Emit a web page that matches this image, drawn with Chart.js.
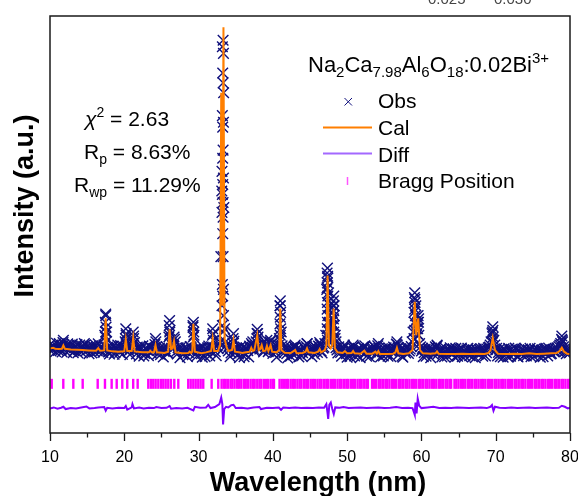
<!DOCTYPE html>
<html>
<head>
<meta charset="utf-8">
<script src="https://cdn.jsdelivr.net/npm/chart.js@4.4.0/dist/chart.umd.min.js"></script>
<style>
  html, body { margin: 0; padding: 0; background: #fff; overflow: hidden; }
  #wrap { position: relative; width: 600px; height: 496px; }
</style>
</head>
<body>
<div id="wrap"><canvas id="xrdChart"></canvas></div>
<script>
// x axis ticks
const majorTicks = [10, 20, 30, 40, 50, 60, 70, 80];
const minorTicks = [15, 25, 35, 45, 55, 65, 75];

// observed points, grid A: 10, 10.25, ... 80
const obsStart = 10;
const obsStep = 0.25;
const obsY = [
    0.032, 0.018, 0.027, 0.010, 0.024, 0.035, 0.016, 0.038, 0.022, 0.008, 0.029, 0.019, 0.033, 0.012, 0.025, 0.006, 0.030, 0.021, 0.014, 0.031,
    0.025, 0.004, 0.019, 0.028, 0.009, 0.022, 0.034, 0.011, 0.020, 0.030, 0.125, 0.024, 0.003, 0.018, 0.027, 0.007, 0.021, 0.015, 0.029, 0.002,
    0.018, 0.060, 0.022, 0.001, 0.026, 0.058, 0.015, 0.024, -0.004, 0.017, 0.028, 0.005, 0.019, -0.002, 0.025, 0.012, 0.020, 0.040, 0.003, 0.021,
    0.014, -0.006, 0.019, 0.008, 0.055, 0.035, 0.028, 0.048, 0.010, 0.022, -0.008, 0.016, 0.004, 0.020, -0.005, 0.013, 0.024, 0.090, 0.018, -0.004,
    0.012, 0.021, -0.007, 0.016, 0.006, 0.023, -0.003, 0.025, 0.045, 0.010, 0.028, 0.035, 0.300, 0.600, 0.080, 0.030, 0.012, -0.005, 0.026, 0.042,
    0.008, 0.019, -0.008, 0.015, 0.024, 0.002, 0.017, -0.006, 0.020, 0.030, 0.012, 0.040, 0.055, 0.018, 0.032, 0.009, 0.027, 0.030, 0.014, 0.033,
    0.005, 0.021, -0.007, 0.030, 0.150, 0.028, 0.006, 0.018, -0.009, 0.014, 0.022, 0.001, 0.024, 0.010, -0.006, 0.017, 0.007, 0.023, 0.026, 0.004,
    0.019, -0.005, 0.015, 0.024, 0.008, 0.026, 0.012, 0.021, 0.035, 0.200, 0.190, 0.045, 0.090, 0.120, 0.022, 0.006, 0.018, -0.004, 0.020, 0.013,
    -0.007, 0.016, 0.004, 0.022, -0.003, 0.012, 0.020, -0.008, 0.014, 0.023, 0.006, 0.017, -0.005, 0.019, 0.010, 0.024, 0.002, 0.021, -0.006, 0.015,
    0.008, 0.022, -0.004, 0.016, 0.011, 0.024, 0.018, 0.030, 0.003, 0.019, -0.007, 0.013, 0.021, 0.005, 0.018, 0.040, 0.130, 0.150, 0.100, 0.035,
    0.012, -0.005, 0.017, 0.006, 0.020, -0.008, 0.014, 0.009, 0.022, 0.004, 0.015, -0.006, 0.018, 0.010, -0.003, 0.016, 0.007, 0.019, -0.007, 0.012,
    0.003, 0.017, -0.005, 0.014, 0.008, 0.020, -0.002, 0.011, 0.016, -0.008, 0.013, 0.005, 0.019, -0.004, 0.012, 0.007, 0.022, 0.030, 0.065, 0.045,
    0.015, -0.003, 0.018, 0.006, -0.007, 0.014, 0.009, 0.020, -0.004, 0.012, 0.003, 0.017, -0.006, 0.010, 0.015, -0.002, 0.019, 0.006, 0.013, -0.005,
    0.011, 0.018, 0.002, 0.014, -0.007, 0.016, 0.008, 0.020, -0.003, 0.012, 0.005, 0.017, 0.010, 0.022, 0.026, 0.035, 0.040, 0.018, 0.004, 0.015,
    0.008
];

// observed points, grid B: 10.125, 10.375, ... 79.875
const obsStart2 = 10.125;
const obsY2 = [
    0.012, 0.030, 0.021, 0.036, 0.014, 0.026, 0.009, 0.031, 0.024, 0.034, 0.015, 0.028, 0.007, 0.023, 0.032, 0.017, 0.011, 0.027, 0.035, 0.013,
    0.017, 0.026, 0.006, 0.021, 0.030, 0.012, 0.020, 0.027, 0.008, 0.060, 0.070, 0.009, 0.025, 0.014, 0.002, 0.023, 0.030, 0.008, 0.018, 0.026,
    0.040, 0.030, 0.012, 0.021, 0.035, 0.038, 0.003, 0.018, 0.026, 0.009, -0.003, 0.022, 0.014, 0.027, 0.006, 0.019, 0.032, 0.025, 0.016, 0.001,
    0.020, 0.011, 0.026, 0.004, 0.070, 0.020, 0.030, 0.040, 0.003, 0.017, 0.024, 0.001, 0.014, 0.022, 0.007, 0.026, 0.015, 0.060, 0.005, 0.019,
    0.018, 0.004, 0.024, -0.005, 0.015, 0.027, 0.010, 0.060, 0.022, -0.002, 0.020, 0.040, 0.500, 0.800, 0.040, 0.020, 0.028, 0.006, 0.035, 0.020,
    0.021, 0.003, 0.025, 0.010, -0.005, 0.022, 0.013, 0.027, 0.035, 0.020, 0.028, 0.065, 0.030, 0.024, 0.038, 0.016, 0.036, 0.010, 0.040, 0.018,
    0.022, 0.008, 0.025, 0.050, 0.070, 0.012, 0.026, 0.004, 0.020, -0.004, 0.016, 0.025, 0.005, 0.021, 0.013, -0.003, 0.024, 0.015, 0.034, 0.010,
    0.014, 0.025, 0.002, 0.020, 0.027, 0.032, 0.006, 0.024, 0.060, 0.240, 0.100, 0.070, 0.150, 0.050, 0.015, 0.025, 0.008, 0.020, 0.030, 0.004,
    0.019, -0.005, 0.013, 0.025, 0.008, -0.002, 0.017, 0.010, 0.024, 0.028, -0.004, 0.015, 0.009, 0.022, 0.026, 0.004, 0.028, 0.012, 0.018, -0.003,
    0.016, 0.004, 0.021, -0.005, 0.019, 0.010, 0.033, 0.022, 0.012, -0.004, 0.018, 0.006, 0.024, 0.012, 0.026, 0.070, 0.170, 0.080, 0.110, 0.025,
    0.020, 0.007, -0.004, 0.018, 0.011, 0.021, 0.002, 0.025, 0.028, 0.009, 0.019, 0.004, -0.005, 0.017, 0.011, 0.022, 0.003, 0.014, 0.020, -0.004,
    0.013, 0.021, 0.006, -0.004, 0.016, 0.009, 0.019, -0.006, 0.010, 0.018, 0.002, 0.015, 0.008, 0.020, -0.003, 0.017, 0.024, 0.040, 0.075, 0.030,
    0.020, 0.008, -0.005, 0.014, 0.019, 0.003, -0.006, 0.013, 0.017, 0.007, 0.021, -0.004, 0.015, 0.004, 0.018, 0.010, -0.003, 0.016, 0.020, 0.008,
    -0.004, 0.013, 0.019, 0.006, 0.014, -0.005, 0.017, 0.011, 0.021, 0.003, 0.015, 0.009, 0.018, 0.012, 0.030, 0.048, 0.025, 0.012, 0.020, 0.006
];

// extra observed points climbing the peak flanks
const obsPeaks = [
    [33.3, 0.96], [33.2, 0.94], [33.35, 0.92], [33.25, 0.86], [33.3, 0.83], [33.2, 0.73], [33.35, 0.71], [33.25, 0.695],
    [33.3, 0.625], [33.15, 0.56], [33.35, 0.54], [33.25, 0.52], [33.2, 0.49], [33.3, 0.465], [33.4, 0.45], [33.15, 0.435],
    [33.3, 0.42], [33.25, 0.37], [33.3, 0.30], [33.2, 0.215], [33.35, 0.20], [33.25, 0.18], [33.15, 0.15], [33.35, 0.12],
    [33.2, 0.09], [33.3, 0.07],
    [17.5, 0.12], [17.45, 0.10], [17.55, 0.085], [17.5, 0.07], [17.45, 0.055], [17.55, 0.04],
    [20.2, 0.08], [20.25, 0.065], [20.15, 0.05], [21.2, 0.07], [21.25, 0.05],
    [26.1, 0.105], [26.05, 0.09], [26.15, 0.075], [26.1, 0.06], [26.7, 0.055],
    [29.3, 0.10], [29.25, 0.085], [29.35, 0.07], [29.3, 0.055],
    [31.9, 0.08], [31.95, 0.065], [34.7, 0.065], [34.65, 0.05],
    [37.9, 0.078], [37.95, 0.065], [37.85, 0.05],
    [41.0, 0.165], [40.95, 0.15], [41.05, 0.13], [41.0, 0.115], [40.95, 0.095], [41.05, 0.08], [41.0, 0.06], [40.95, 0.045],
    [47.35, 0.265], [47.3, 0.25], [47.4, 0.235], [47.35, 0.22], [47.3, 0.205], [47.4, 0.18], [47.35, 0.16], [47.3, 0.14],
    [47.4, 0.12], [47.35, 0.10], [47.3, 0.08], [47.4, 0.06], [47.35, 0.045],
    [48.2, 0.18], [48.15, 0.165], [48.25, 0.15], [48.2, 0.135], [48.15, 0.11], [48.25, 0.09], [48.2, 0.07], [48.15, 0.05],
    [47.6, 0.12], [47.75, 0.09], [47.9, 0.10], [47.6, 0.07], [47.8, 0.05], [48.0, 0.13], [47.7, 0.15], [48.4, 0.06], [48.5, 0.04],
    [59.1, 0.19], [59.05, 0.175], [59.15, 0.16], [59.1, 0.14], [59.2, 0.12], [59.05, 0.10], [59.55, 0.12], [59.6, 0.10],
    [59.5, 0.08], [59.1, 0.075], [59.65, 0.06], [59.0, 0.05], [59.35, 0.09], [59.4, 0.065],
    [69.6, 0.086], [69.55, 0.07], [69.65, 0.055], [69.6, 0.04], [78.9, 0.058], [78.95, 0.045],
    [11.8, 0.045], [24.2, 0.05], [37.3, 0.04], [39.2, 0.045], [39.7, 0.045], [43.0, 0.03], [44.6, 0.035],
    [46.3, 0.038], [56.7, 0.04], [54.2, 0.035], [62.1, 0.03], [50.8, 0.03]
];

// calculated profile
const calPts = [
    [10.0, 0.020], [10.4, 0.022], [10.7, 0.019], [11.2, 0.018], [11.6, 0.019], [11.8, 0.029], [12.0, 0.019], [12.8, 0.017],
    [13.6, 0.016], [14.4, 0.015], [15.2, 0.014], [16.2, 0.013], [16.5, 0.021], [16.75, 0.013], [17.3, 0.014], [17.5, 0.112],
    [17.7, 0.014], [18.4, 0.011], [19.2, 0.010], [20.0, 0.011], [20.2, 0.048], [20.4, 0.012], [21.0, 0.012], [21.2, 0.052],
    [21.4, 0.011], [22.4, 0.008], [23.3, 0.008], [23.5, 0.013], [23.7, 0.008], [24.0, 0.008], [24.2, 0.030], [24.4, 0.008],
    [25.4, 0.006], [25.9, 0.010], [26.1, 0.078], [26.3, 0.018], [26.5, 0.020], [26.7, 0.042], [26.9, 0.008], [27.8, 0.005],
    [28.6, 0.006], [28.8, 0.010], [29.0, 0.006], [29.15, 0.010], [29.3, 0.095], [29.5, 0.010], [30.4, 0.005], [31.0, 0.008],
    [31.7, 0.012], [31.9, 0.050], [32.1, 0.012], [32.6, 0.012], [32.9, 0.030], [33.05, 0.80], [33.2, 0.15], [33.35, 1.0],
    [33.5, 0.05], [33.8, 0.022], [34.0, 0.012], [34.5, 0.015], [34.7, 0.045], [34.9, 0.010], [35.4, 0.008], [35.9, 0.006],
    [36.4, 0.008], [36.9, 0.010], [37.1, 0.022], [37.3, 0.012], [37.5, 0.014], [37.9, 0.060], [38.1, 0.015], [38.3, 0.018],
    [38.5, 0.030], [38.7, 0.012], [39.0, 0.013], [39.2, 0.028], [39.4, 0.012], [39.7, 0.030], [39.9, 0.010], [40.5, 0.008],
    [40.85, 0.015], [41.0, 0.142], [41.15, 0.015], [41.6, 0.007], [42.4, 0.006], [43.0, 0.015], [43.2, 0.005], [44.0, 0.006],
    [44.4, 0.010], [44.6, 0.020], [44.8, 0.008], [45.6, 0.006], [46.1, 0.010], [46.3, 0.018], [46.5, 0.008], [47.0, 0.015],
    [47.2, 0.030], [47.37, 0.242], [47.55, 0.030], [47.8, 0.020], [48.0, 0.030], [48.18, 0.142], [48.35, 0.020], [48.7, 0.008],
    [49.4, 0.006], [49.7, 0.012], [50.0, 0.005], [50.6, 0.006], [50.8, 0.012], [51.0, 0.005], [51.8, 0.004], [52.3, 0.013],
    [52.6, 0.004], [53.4, 0.004], [53.8, 0.010], [54.0, 0.004], [54.2, 0.012], [54.4, 0.003], [55.4, 0.003], [56.2, 0.004],
    [56.5, 0.008], [56.7, 0.022], [56.9, 0.005], [57.6, 0.003], [58.3, 0.005], [58.8, 0.015], [59.1, 0.162], [59.3, 0.060],
    [59.57, 0.112], [59.8, 0.015], [60.2, 0.005], [61.2, 0.004], [61.9, 0.005], [62.1, 0.011], [62.3, 0.004], [63.5, 0.003],
    [64.5, 0.003], [65.5, 0.004], [66.5, 0.003], [67.5, 0.004], [68.5, 0.003], [69.0, 0.006], [69.3, 0.015], [69.6, 0.052],
    [69.9, 0.015], [70.3, 0.004], [71.5, 0.003], [72.5, 0.004], [73.5, 0.003], [74.5, 0.005], [75.5, 0.003], [76.5, 0.004],
    [77.5, 0.005], [78.2, 0.006], [78.6, 0.012], [78.9, 0.022], [79.2, 0.010], [79.6, 0.004], [80.0, 0.003]
];

// difference curve (offset below the pattern)
const diffPts = [
    [10, -0.163], [10.5, -0.160], [11, -0.164], [11.5, -0.161], [11.8, -0.158], [12.1, -0.165], [12.8, -0.162], [13.5, -0.163],
    [14.2, -0.160], [14.9, -0.157], [15.3, -0.163], [16, -0.162], [16.5, -0.160], [17.3, -0.159], [17.5, -0.170], [17.7, -0.161],
    [18.4, -0.163], [19.2, -0.161], [20.0, -0.162], [20.2, -0.156], [20.4, -0.167], [21.0, -0.160], [21.1, -0.150], [21.3, -0.163],
    [22.0, -0.160], [22.6, -0.163], [23.3, -0.161], [24.0, -0.162], [24.3, -0.159], [25.0, -0.162], [25.7, -0.161], [26.1, -0.156],
    [26.3, -0.164], [27.0, -0.162], [27.8, -0.163], [28.5, -0.161], [29.3, -0.169], [29.5, -0.158], [30.2, -0.161], [31.0, -0.160],
    [31.3, -0.152], [31.6, -0.162], [32.2, -0.159], [32.8, -0.150], [33.05, -0.130], [33.2, -0.150], [33.3, -0.212], [33.45, -0.165],
    [33.7, -0.158], [34.0, -0.160], [34.4, -0.153], [34.7, -0.152], [35.0, -0.162], [35.8, -0.161], [36.6, -0.163], [37.4, -0.160],
    [38.2, -0.159], [38.4, -0.165], [39.2, -0.161], [40.0, -0.162], [40.8, -0.160], [41.1, -0.167], [41.4, -0.160], [42.2, -0.162],
    [43.0, -0.160], [43.8, -0.162], [44.6, -0.161], [45.4, -0.162], [46.2, -0.160], [46.9, -0.161], [47.2, -0.150], [47.35, -0.175],
    [47.45, -0.195], [47.6, -0.152], [47.8, -0.145], [48.0, -0.165], [48.2, -0.180], [48.4, -0.160], [49.0, -0.161], [49.5, -0.159],
    [50.2, -0.162], [51, -0.161], [51.8, -0.160], [52.6, -0.162], [53.4, -0.161], [54.2, -0.160], [55, -0.162], [55.8, -0.161],
    [56.6, -0.159], [57.4, -0.162], [58.2, -0.161], [58.8, -0.162], [59.0, -0.175], [59.1, -0.182], [59.2, -0.145], [59.35, -0.178],
    [59.5, -0.133], [59.7, -0.155], [60.0, -0.162], [60.8, -0.160], [61.6, -0.158], [62.4, -0.162], [63.2, -0.161], [64, -0.162],
    [64.8, -0.160], [65.6, -0.161], [66.4, -0.162], [67.2, -0.161], [68, -0.160], [68.8, -0.162], [69.3, -0.158], [69.5, -0.153],
    [69.7, -0.170], [69.9, -0.158], [70.5, -0.161], [71.3, -0.162], [72.1, -0.160], [72.9, -0.162], [73.7, -0.161], [74.5, -0.160],
    [75.3, -0.162], [76.1, -0.161], [76.9, -0.160], [77.7, -0.162], [78.5, -0.161], [78.9, -0.155], [79.3, -0.158], [79.7, -0.163],
    [80, -0.161]
];

// Bragg reflection positions
const braggLevel = -0.088;
const braggPos = [
    10.23, 11.79, 13.14, 14.4, 16.42, 17.4, 18.3, 18.98, 19.73, 20.4, 21.2, 21.8,
    23.23, 23.58, 23.9, 24.22, 24.58, 24.94, 25.25, 25.57, 25.92, 26.28, 26.73, 27.27,
    28.61, 28.94, 29.29, 29.61, 29.96, 30.28, 30.63, 31.76, 32.65,
    33.1, 33.4, 33.65, 33.95, 34.3, 34.55, 34.85, 35.2, 35.45, 35.75, 36.1, 36.35, 36.65, 37.0, 37.3, 37.55,
    37.9, 38.2, 38.45, 38.8, 39.1, 39.35, 39.7, 40.0, 40.15, 40.9, 41.2, 41.5, 41.8, 42.05, 42.4, 42.7,
    42.95, 43.3, 43.6, 43.85, 44.2, 44.5, 44.75, 45.1, 45.4, 45.65, 46.0, 46.3, 46.55, 46.9, 47.2, 47.45,
    47.8, 48.1, 48.35, 48.7, 49.0, 49.25, 49.6, 49.9, 50.15, 50.5, 50.8, 51.05, 51.4, 51.7, 51.95, 52.3,
    52.6, 52.8, 53.35, 53.6, 53.9, 54.25, 54.5, 54.8, 55.15, 55.4, 55.7, 56.05, 56.3, 56.6, 56.95, 57.2,
    57.5, 57.85, 58.1, 58.4, 58.75, 59.0, 59.3, 59.65, 59.9, 60.2, 60.55, 60.8, 61.1, 61.45, 61.7, 62.0,
    62.35, 62.6, 62.9, 63.25, 63.5, 63.8, 64.0, 64.45, 64.7, 65.0, 65.35, 65.6, 65.9, 66.25, 66.5, 66.8,
    67.15, 67.4, 67.7, 68.05, 68.3, 68.6, 68.95, 69.2, 69.5, 69.85, 70.1, 70.4, 70.75, 71.0, 71.3, 71.65,
    71.9, 72.2, 72.55, 72.8, 73.1, 73.45, 73.7, 74.0, 74.35, 74.6, 74.9, 75.25, 75.5, 75.8, 76.15, 76.4,
    76.7, 77.05, 77.3, 77.6, 77.95, 78.2, 78.5, 78.85, 79.1, 79.4, 79.75, 80.0
];

const colors = {
    obs: '#10107c',
    cal: '#ff7f00',
    diff: '#8000ff',
    diffLegend: '#a368ff',
    bragg: '#ff00ff',
    braggLegend: '#ff55ff',
    text: '#000'
};

const FONT = '"Liberation Sans", Arial, sans-serif';

// draws runs of text with sub/superscripts: parts = [[text, 'n'|'sub'|'sup', italic?]]
function drawRich(ctx, x, y, parts, size) {
    let cx = x;
    parts.forEach(p => {
        const kind = p[1];
        const fs = kind === 'n' ? size : Math.round(size * 0.66);
        const dy = kind === 'sub' ? size * 0.22 : (kind === 'sup' ? -size * 0.42 : 0);
        ctx.font = (p[2] ? 'italic ' : '') + fs + 'px ' + FONT;
        ctx.fillText(p[0], cx, y + dy);
        cx += ctx.measureText(p[0]).width;
    });
}

const decorPlugin = {
    id: 'decor',
    afterDraw(chart) {
        const ctx = chart.ctx;
        const a = chart.chartArea;
        const xs = chart.scales.x;
        ctx.save();

        // frame
        ctx.strokeStyle = '#1a1a1a';
        ctx.lineWidth = 1.5;
        ctx.strokeRect(a.left, a.top, a.right - a.left, a.bottom - a.top);

        // bottom tick marks
        ctx.beginPath();
        majorTicks.forEach(v => {
            const px = Math.round(xs.getPixelForValue(v)) + 0.5;
            ctx.moveTo(px, a.bottom);
            ctx.lineTo(px, a.bottom + 8);
        });
        minorTicks.forEach(v => {
            const px = Math.round(xs.getPixelForValue(v)) + 0.5;
            ctx.moveTo(px, a.bottom);
            ctx.lineTo(px, a.bottom + 4.5);
        });
        ctx.lineWidth = 1.3;
        ctx.stroke();

        ctx.fillStyle = colors.text;
        ctx.textBaseline = 'alphabetic';

        // axis titles
        ctx.font = 'bold 27px ' + FONT;
        ctx.textAlign = 'center';
        ctx.fillText('Wavelength (nm)', 318, 491);
        ctx.save();
        ctx.translate(33, 206);
        ctx.rotate(-Math.PI / 2);
        ctx.fillText('Intensity (a.u.)', 0, 0);
        ctx.restore();
        ctx.textAlign = 'left';

        // refinement figures
        drawRich(ctx, 85, 126, [['\u03C7', 'n', true], ['2', 'sup'], [' = 2.63', 'n']], 21);
        drawRich(ctx, 84, 159, [['R', 'n'], ['p', 'sub'], [' = 8.63%', 'n']], 21);
        drawRich(ctx, 74, 192, [['R', 'n'], ['wp', 'sub'], [' = 11.29%', 'n']], 21);

        // sample formula
        drawRich(ctx, 308, 72, [
            ['Na', 'n'], ['2', 'sub'], ['Ca', 'n'], ['7.98', 'sub'], ['Al', 'n'], ['6', 'sub'],
            ['O', 'n'], ['18', 'sub'], [':0.02Bi', 'n'], ['3+', 'sup']
        ], 22);

        // legend
        ctx.font = '21px ' + FONT;
        ctx.fillText('Obs', 378, 108);
        ctx.fillText('Cal', 378, 135);
        ctx.fillText('Diff', 378, 162);
        ctx.fillText('Bragg Position', 378, 188);

        ctx.strokeStyle = colors.obs;
        ctx.lineWidth = 1;
        ctx.beginPath();
        ctx.moveTo(344.5, 98); ctx.lineTo(352, 105.5);
        ctx.moveTo(352, 98); ctx.lineTo(344.5, 105.5);
        ctx.stroke();

        ctx.lineWidth = 2;
        ctx.strokeStyle = colors.cal;
        ctx.beginPath(); ctx.moveTo(323, 127.5); ctx.lineTo(372, 127.5); ctx.stroke();
        ctx.strokeStyle = colors.diffLegend;
        ctx.beginPath(); ctx.moveTo(323, 153.5); ctx.lineTo(372, 153.5); ctx.stroke();
        ctx.lineWidth = 1.5;
        ctx.strokeStyle = colors.braggLegend;
        ctx.beginPath(); ctx.moveTo(347.5, 177); ctx.lineTo(347.5, 185); ctx.stroke();

        // clipped labels of a cut-off inset at the very top
        ctx.fillStyle = '#444';
        ctx.font = '15px ' + FONT;
        ctx.fillText('0.025', 428, 4);
        ctx.fillText('0.030', 494, 4);

        ctx.restore();
    }
};

const obsData = obsY.map((y, i) => ({ x: obsStart + i * obsStep, y: y }))
    .concat(obsY2.map((y, i) => ({ x: obsStart2 + i * obsStep, y: y })))
    .concat(obsPeaks.map(p => ({ x: p[0], y: p[1] })));

new Chart(document.getElementById('xrdChart'), {
    type: 'scatter',
    data: {
        datasets: [
            {
                label: 'Cal',
                data: calPts.map(p => ({ x: p[0], y: p[1] })),
                showLine: true,
                borderColor: colors.cal,
                borderWidth: 2,
                pointRadius: 0,
                tension: 0
            },
            {
                label: 'Obs',
                data: obsData,
                showLine: false,
                pointStyle: 'crossRot',
                pointRadius: 7.5,
                borderColor: colors.obs,
                backgroundColor: colors.obs,
                borderWidth: 1.4
            },
            {
                label: 'Diff',
                data: diffPts.map(p => ({ x: p[0], y: p[1] })),
                showLine: true,
                borderColor: colors.diff,
                borderWidth: 2,
                pointRadius: 0,
                tension: 0
            },
            {
                label: 'Bragg Position',
                data: braggPos.map(x => ({ x: x, y: braggLevel })),
                showLine: false,
                pointStyle: 'line',
                rotation: 90,
                pointRadius: 5,
                borderColor: colors.bragg,
                borderWidth: 2.4
            }
        ]
    },
    options: {
        responsive: true,
        maintainAspectRatio: false,
        animation: false,
        events: [],
        layout: { padding: { left: 50, right: 30, top: 16, bottom: 0 } },
        plugins: {
            legend: { display: false },
            tooltip: { enabled: false }
        },
        scales: {
            x: {
                type: 'linear',
                min: 10,
                max: 80,
                grid: { display: false, drawTicks: false },
                border: { display: false },
                ticks: {
                    stepSize: 10,
                    padding: 15,
                    color: '#000',
                    font: { family: FONT, size: 16 }
                },
                afterFit: s => { s.height = 63; }
            },
            y: {
                display: false,
                min: -0.238,
                max: 1.034
            }
        }
    },
    plugins: [decorPlugin]
});
</script>
</body>
</html>
